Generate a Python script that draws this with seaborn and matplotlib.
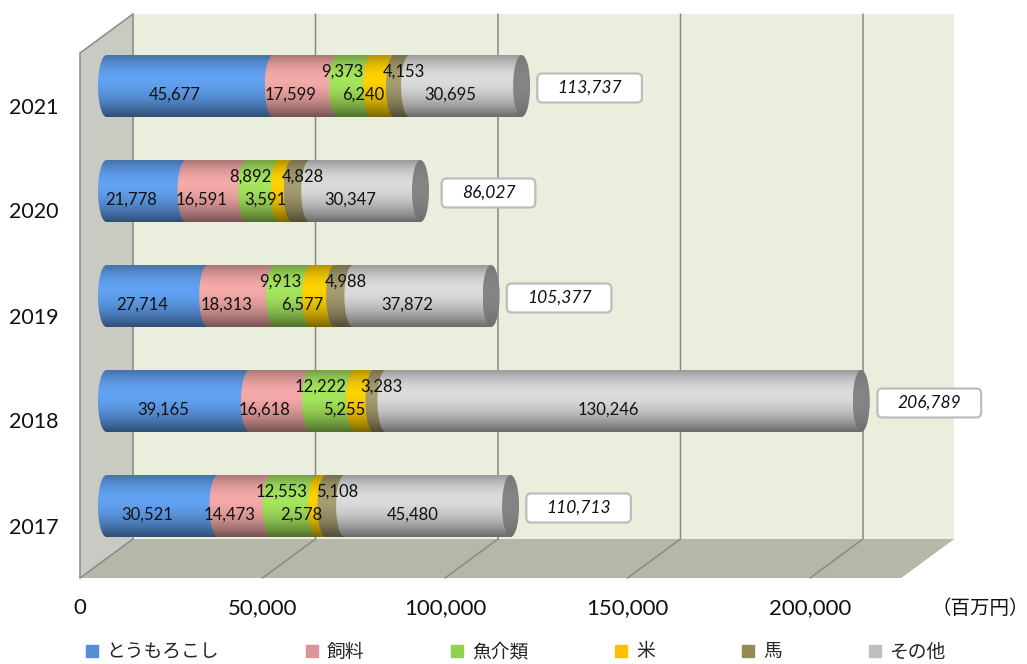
import numpy as np
import pandas as pd
import matplotlib
matplotlib.use("Agg")
import matplotlib.pyplot as plt
import seaborn as sns
from matplotlib.patches import Polygon, Ellipse, FancyBboxPatch
from matplotlib.lines import Line2D
from matplotlib.transforms import ScaledTranslation, IdentityTransform
from matplotlib.colors import to_rgb

# ---- data (百万円) ----
years = ["2021", "2020", "2019", "2018", "2017"]
categories = ["とうもろこし", "飼料", "魚介類", "米", "馬", "その他"]
corn = [45677, 21778, 27714, 39165, 30521]
feed = [17599, 16591, 18313, 16618, 14473]
seafood = [9373, 8892, 9913, 12222, 12553]
rice = [6240, 3591, 6577, 5255, 2578]
horse = [4153, 4828, 4988, 3283, 5108]
other = [30695, 30347, 37872, 130246, 45480]
totals = [113737, 86027, 105377, 206789, 110713]
x_ticks = [0, 50000, 100000, 150000, 200000]
x_max = 225000
unit_label = "（百万円）"

legend_colors = ["#558ED5", "#D99694", "#92D050", "#FFC000", "#948A54", "#BFBFBF"]
shade_colors = ["#62A2F2", "#F4AAA8", "#A6E65E", "#FFD200", "#A69E70", "#DCDCDC"]
cap_color = "#858585"

sns.set_theme(style="white")
plt.rcParams["font.family"] = ["Lato", "Noto Sans CJK JP", "DejaVu Sans"]

W, H = 1027, 664
DPI = 100
fig = plt.figure(figsize=(W / DPI, H / DPI), dpi=DPI)

# axes box = middle depth plane of the pseudo-3D chart (pixels)
px_left, px_right = 106.5, 927.75
px_top, px_bottom = 33.5, 558.5
ax = fig.add_axes([px_left / W, (H - px_bottom) / H,
                   (px_right - px_left) / W, (px_bottom - px_top) / H])
ax.set_facecolor("none")

# depth offset between planes (pixels)
DEPTH_X, DEPTH_Y = 26.5, 19.5
front_shift = ScaledTranslation(-DEPTH_X / DPI, -DEPTH_Y / DPI, fig.dpi_scale_trans)

series = [corn, feed, seafood, rice, horse, other]
df = pd.DataFrame({c: v for c, v in zip(categories, series)}, index=years)
cum = df.cumsum(axis=1)

# cumulative stacked bars with seaborn (drawn longest first)
bar_w = 0.59
stack_patches = {}
for cat, col in zip(reversed(categories), reversed(legend_colors)):
    n0 = len(ax.patches)
    sns.barplot(x=cum[cat].values, y=years, order=years, orient="y",
                color=col, width=bar_w, errorbar=None, ax=ax)
    stack_patches[cat] = list(ax.patches[n0:])

ax.set_xlim(0, x_max)
ax.set_ylim(len(years) - 0.5, -0.5)
ax.set_xlabel("")
ax.set_ylabel("")
for s in ax.spines.values():
    s.set_visible(False)
ax.grid(False)

units_per_px = x_max / (px_right - px_left)
ell_w = 17 * units_per_px


def shade_strip(color, top_k=0.70, bot_k=0.48, peak=0.38, n=96):
    base = np.array(to_rgb(color))
    t = np.linspace(0, 1, n)
    d = np.where(t < peak, (peak - t) / peak, (t - peak) / (1 - peak))
    v = 1 - d ** 1.8
    dark = np.where(t < peak, top_k, bot_k)
    k = dark + (1 - dark) * v
    rgb = np.clip(base[None, :] * k[:, None], 0, 1)
    return rgb[:, None, :]


def draw_segment(x0, x1, yc, h, color, z):
    theta = np.linspace(np.pi / 2, 3 * np.pi / 2, 48)
    ex = x0 + ell_w / 2 * np.cos(theta)
    ey = yc + h / 2 * np.sin(theta)
    verts = np.column_stack([np.r_[ex, x1, x1], np.r_[ey, yc - h / 2, yc + h / 2]])
    clip = Polygon(verts, closed=True, transform=ax.transData)
    im = ax.imshow(shade_strip(color), extent=(x0 - ell_w / 2, x1, yc + h / 2, yc - h / 2),
                   origin="upper", aspect="auto", interpolation="bilinear", zorder=z)
    im.set_clip_box(fig.bbox)
    im.set_clip_path(clip)


def draw_cap(xc, yc, h, z):
    clip = Ellipse((xc, yc), ell_w, h, transform=ax.transData)
    im = ax.imshow(shade_strip(cap_color, 0.9, 0.82, 0.45),
                   extent=(xc - ell_w / 2, xc + ell_w / 2, yc + h / 2, yc - h / 2),
                   origin="upper", aspect="auto", interpolation="bilinear", zorder=z)
    im.set_clip_box(fig.bbox)
    im.set_clip_path(clip)


# label placement per series: row (0 = lower, 1 = upper) and horizontal nudge in px
label_rows = [0, 0, 1, 0, 1, 0]
label_nudge = [-15, -15, -12, -20, 2, -15]
seg_ends = {}
for cat in categories:
    for p in stack_patches[cat]:
        p.set_visible(False)
        yc = p.get_y() + p.get_height() / 2
        seg_ends[(cat, int(round(yc)))] = (p.get_x() + p.get_width(), yc, p.get_height())

z = 3
for i, yr in enumerate(years):
    start = 0.0
    for j, cat in enumerate(categories):
        end, yc, h = seg_ends[(cat, i)]
        draw_segment(start, end, yc, h, shade_colors[j], z)
        z += 1
        dy = -9 if label_rows[j] == 0 else 14
        tr = ax.transData + ScaledTranslation(label_nudge[j] / DPI, dy / DPI, fig.dpi_scale_trans)
        ax.text((start + end) / 2, yc, f"{int(round(end - start)):,}", transform=tr,
                ha="center", va="center", fontsize=12, color="#111111", zorder=200)
        start = end
    draw_cap(start, yc, h, z)
    z += 1

# ---- pseudo-3D walls, floor and gridlines ----
def to_px(x, y, plane):
    X, Y = ax.transData.transform((x, y))
    return X + plane * DEPTH_X, Y + plane * DEPTH_Y

ytop, ybot = -0.5, len(years) - 0.5
ident = IdentityTransform()
back = [to_px(0, ytop, 1), to_px(x_max, ytop, 1), to_px(x_max, ybot, 1), to_px(0, ybot, 1)]
left = [to_px(0, ytop, 1), to_px(0, ybot, 1), to_px(0, ybot, -1), to_px(0, ytop, -1)]
floor = [to_px(0, ybot, 1), to_px(x_max, ybot, 1), to_px(x_max, ybot, -1), to_px(0, ybot, -1)]
ax.add_patch(Polygon(back, closed=True, transform=ident, facecolor="#EAEFDD",
                     edgecolor="none", clip_on=False, zorder=0.1))
ax.add_patch(Polygon(floor, closed=True, transform=ident, facecolor="#B5B8A8",
                     edgecolor="none", clip_on=False, zorder=0.2))
ax.add_patch(Polygon(left, closed=True, transform=ident, facecolor="#C9CAC1",
                     edgecolor="none", clip_on=False, zorder=0.2))

grid_kw = dict(color="#898989", lw=1.1, transform=ident, clip_on=False, zorder=0.5)
for v in x_ticks:
    a, b, c = to_px(v, ytop, 1), to_px(v, ybot, 1), to_px(v, ybot, -1)
    ax.add_line(Line2D([a[0], b[0], c[0]], [a[1], b[1], c[1]], **grid_kw))
a, b, c = to_px(0, ytop, 1), to_px(0, ytop, -1), to_px(0, ybot, -1)
ax.add_line(Line2D([a[0], b[0], c[0]], [a[1], b[1], c[1]], **grid_kw))

# ---- axis tick labels on the front plane ----
ax.set_xticks(x_ticks)
ax.set_xticklabels([f"{v:,}" for v in x_ticks])
ax.tick_params(axis="x", length=0, pad=14.5, labelsize=16, labelcolor="#111111")
ax.tick_params(axis="y", length=0, pad=15.5, labelsize=15.5, labelcolor="#111111")
for lab in ax.get_xticklabels() + ax.get_yticklabels():
    lab.set_transform(lab.get_transform() + front_shift)

fig.text(1029 / W, 1 - 608 / H, unit_label, ha="right", va="center",
         fontsize=14, color="#111111", family=["Noto Sans CJK JP", "DejaVu Sans"])

# ---- totals in rounded boxes ----
total_texts = []
for i, tot in enumerate(totals):
    end, yc, h = seg_ends[(categories[-1], i)]
    tr = ax.transData + ScaledTranslation(68 / DPI, -2 / DPI, fig.dpi_scale_trans)
    t = ax.text(end, yc, f"{tot:,}", transform=tr, ha="center", va="center",
                fontsize=12.5, style="italic", color="#111111", zorder=210)
    total_texts.append(t)

# ---- legend ----
handles = [Line2D([], [], marker="s", linestyle="none", markersize=9,
                  markerfacecolor=c, markeredgecolor=c) for c in legend_colors]
fig.legend(handles, categories, loc="center", bbox_to_anchor=(515 / W, 1 - 652 / H),
           ncol=6, frameon=False, handlelength=0.8, handletextpad=0.4,
           columnspacing=4.55, prop={"family": ["Noto Sans CJK JP", "DejaVu Sans"], "size": 13.5})

fig.canvas.draw()
renderer = fig.canvas.get_renderer()
for t in total_texts:
    bb = t.get_window_extent(renderer)
    cx, cy = (bb.x0 + bb.x1) / 2, (bb.y0 + bb.y1) / 2
    bw, bh = bb.width + 40, 29
    ax.add_patch(FancyBboxPatch((cx - bw / 2, cy - bh / 2), bw, bh,
                                boxstyle="round,pad=0,rounding_size=5", transform=ident,
                                facecolor="white", edgecolor="#BDBDBD", lw=1.6,
                                clip_on=False, zorder=205))

fig.savefig("out.png", dpi=DPI)
